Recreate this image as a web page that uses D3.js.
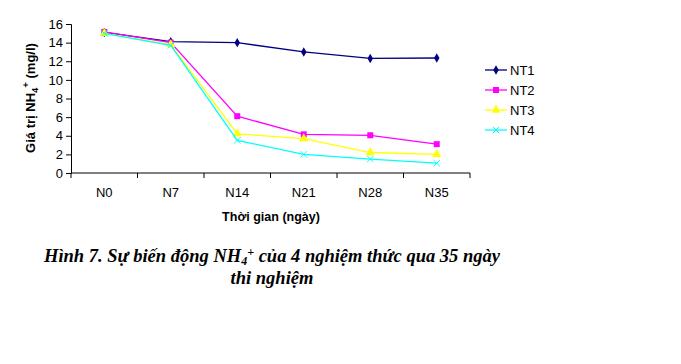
<!DOCTYPE html>
<html>
<head>
<meta charset="utf-8">
<script src="https://cdn.jsdelivr.net/npm/d3@7"></script>
<style>
  body { margin: 0; background: #fff; }
</style>
</head>
<body>
<div id="chart"></div>
<script>
// chart data
var days = ["N0", "N7", "N14", "N21", "N28", "N35"];
var nt1 = [15.1, 14.1, 14.0, 13.0, 12.3, 12.35];
var nt2 = [15.15, 14.0, 6.1, 4.15, 4.05, 3.1];
var nt3 = [15.0, 13.8, 4.2, 3.7, 2.2, 2.0];
var nt4 = [15.0, 13.7, 3.5, 2.0, 1.5, 1.05];
var seriesNames = ["NT1", "NT2", "NT3", "NT4"];
var seriesColors = ["#000080", "#ff00ff", "#ffff00", "#00ffff"];
var yTicks = [0, 2, 4, 6, 8, 10, 12, 14, 16];

var allSeries = [nt1, nt2, nt3, nt4];

var svgWidth = 681, svgHeight = 364;
var plotLeft = 71, plotRight = 470, plotTop = 24, plotBottom = 173;

var svg = d3.select("#chart")
            .append("svg")
            .attr("width", svgWidth)
            .attr("height", svgHeight)
            .style("font-family", "Arial, 'Liberation Sans', sans-serif");

var x = d3.scaleBand().domain(days).range([plotLeft, plotRight]);
var y = d3.scaleLinear().domain([0, 16]).range([plotBottom, plotTop]);

// y axis
var yAxis = svg.append("g")
   .attr("transform", "translate(" + plotLeft + ",0)")
   .call(d3.axisLeft(y).tickValues(yTicks).tickSize(5).tickPadding(3));
yAxis.selectAll("text").attr("font-size", "13px").attr("fill", "#000").attr("font-family", "Arial, 'Liberation Sans', sans-serif");

// x axis (ticks between categories)
var xAxis = svg.append("g")
   .attr("transform", "translate(0," + plotBottom + ")")
   .call(d3.axisBottom(x).tickSize(0).tickPadding(15));
xAxis.selectAll("text").attr("font-size", "13px").attr("fill", "#000").attr("font-family", "Arial, 'Liberation Sans', sans-serif");
xAxis.select(".domain").attr("d", "M" + plotLeft + ",0H" + plotRight);
var edges = days.map(function(d) { return x(d); }).concat([plotRight]);
xAxis.selectAll(".edge")
     .data(edges)
     .enter()
     .append("line")
     .attr("x1", function(d) { return d; })
     .attr("x2", function(d) { return d; })
     .attr("y1", 0)
     .attr("y2", 5)
     .attr("stroke", "#000");

svg.selectAll(".domain").attr("stroke", "#000");

// axis titles
svg.append("text")
   .attr("x", 271)
   .attr("y", 221)
   .attr("text-anchor", "middle")
   .attr("font-size", "12.5px")
   .attr("font-weight", "bold")
   .text("Thời gian (ngày)");

var yTitle = svg.append("text")
   .attr("transform", "translate(35,98) rotate(-90)")
   .attr("text-anchor", "middle")
   .attr("font-size", "13px")
   .attr("font-weight", "bold");
yTitle.append("tspan").text("Giá trị NH");
yTitle.append("tspan").attr("font-size", "9.5px").attr("dy", 3).text("4");
yTitle.append("tspan").attr("font-size", "9.5px").attr("dy", -9).text("+");
yTitle.append("tspan").attr("dy", 6).text(" (mg/l)");

// lines
var line = d3.line()
             .x(function(d, i) { return x(days[i]) + x.bandwidth() / 2; })
             .y(function(d) { return y(d); });

var symbolTypes = [d3.symbolDiamond, d3.symbolSquare, d3.symbolTriangle, d3.symbolX];
var symbolSizes = [26, 36, 36, 28];

function drawMarker(g, i, cx, cy) {
  var s = d3.symbol().type(symbolTypes[i]).size(symbolSizes[i]);
  var m = g.append("path")
           .attr("d", s())
           .attr("transform", "translate(" + cx + "," + cy + ")");
  if (i === 3) {
    m.attr("fill", "none").attr("stroke", seriesColors[i]).attr("stroke-width", 1);
  } else {
    m.attr("fill", seriesColors[i]);
  }
}

allSeries.forEach(function(vals, i) {
  var g = svg.append("g");
  g.append("path")
   .datum(vals)
   .attr("d", line)
   .attr("fill", "none")
   .attr("stroke", seriesColors[i])
   .attr("stroke-width", 1.3);
  vals.forEach(function(v, j) {
    drawMarker(g, i, x(days[j]) + x.bandwidth() / 2, y(v));
  });
});

// legend
var legend = svg.append("g");
seriesNames.forEach(function(name, i) {
  var ly = 70 + i * 20;
  legend.append("line")
        .attr("x1", 485).attr("x2", 507)
        .attr("y1", ly).attr("y2", ly)
        .attr("stroke", seriesColors[i])
        .attr("stroke-width", 1.3);
  drawMarker(legend, i, 496, ly);
  legend.append("text")
        .attr("x", 510)
        .attr("y", ly + 5)
        .attr("font-size", "13px")
        .text(name);
});

// caption
var cap = svg.append("text")
   .attr("x", 272)
   .attr("y", 262)
   .attr("text-anchor", "middle")
   .attr("font-family", "'Liberation Serif', 'Times New Roman', serif")
   .attr("font-size", "18.5px")
   .attr("font-weight", "bold")
   .attr("font-style", "italic");
cap.append("tspan").text("Hình 7. Sự biến động NH");
cap.append("tspan").attr("font-size", "12px").attr("dy", 3).text("4");
cap.append("tspan").attr("font-size", "12px").attr("dy", -9).text("+");
cap.append("tspan").attr("dy", 6).text(" của 4 nghiệm thức qua 35 ngày");

svg.append("text")
   .attr("x", 272)
   .attr("y", 284)
   .attr("text-anchor", "middle")
   .attr("font-family", "'Liberation Serif', 'Times New Roman', serif")
   .attr("font-size", "18.5px")
   .attr("font-weight", "bold")
   .attr("font-style", "italic")
   .text("thi nghiệm");
</script>
</body>
</html>
